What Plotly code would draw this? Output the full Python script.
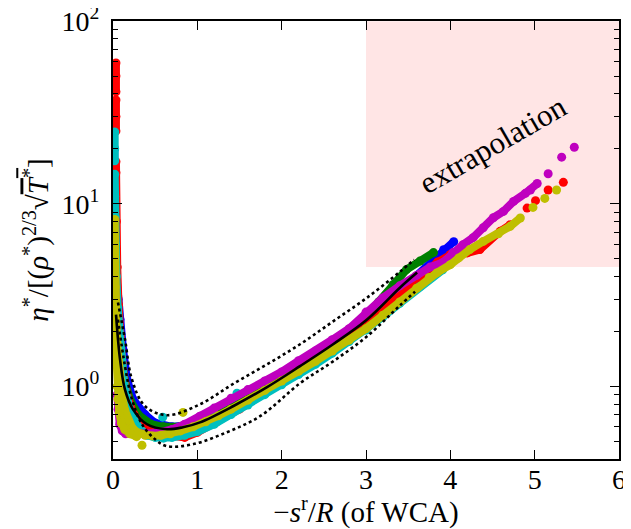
import math
import plotly.graph_objects as go

# ---------------- data ----------------
# fitted correlation and its +/- band
fit_x = [0.036, 0.083, 0.142, 0.237, 0.403, 0.641, 0.830, 1.032, 1.423, 1.827, 2.218, 2.610, 3.013, 3.405, 3.606]
fit_y = [2.47, 1.41, 0.96, 0.748, 0.62, 0.582, 0.597, 0.635, 0.778, 0.99, 1.29, 1.70, 2.32, 3.48, 4.20]
up_x = [0.059, 0.142, 0.225, 0.380, 0.641, 1.032, 1.423, 1.827, 2.218, 2.610, 3.013, 3.405, 3.571]
up_y = [2.88, 1.81, 1.09, 0.778, 0.695, 0.798, 1.03, 1.32, 1.70, 2.27, 3.06, 4.25, 4.94]
lo_x = [0.059, 0.142, 0.225, 0.344, 0.498, 0.641, 0.949, 1.352, 1.744, 2.218, 2.610, 3.013, 3.405, 3.582]
lo_y = [2.32, 1.29, 0.849, 0.62, 0.513, 0.47, 0.482, 0.561, 0.686, 1.04, 1.37, 1.88, 2.78, 3.30]

# blue series
blue_x = [0.015, 0.015, 0.02, 0.04, 0.06, 0.083, 0.119, 0.166, 0.237, 0.38, 0.5, 0.7, 0.9, 1.1, 1.4, 1.8, 2.2, 2.6, 3.0, 3.3, 3.6, 3.8, 3.92, 4.04]
blue_y = [20, 12, 6.0, 4.0, 3.0, 2.32, 1.59, 1.09, 0.85, 0.70, 0.63, 0.60, 0.615, 0.66, 0.77, 0.97, 1.25, 1.65, 2.25, 3.0, 4.0, 4.9, 5.6, 6.2]

# green series
green_x = [0.02, 0.035, 0.05, 0.075, 0.11, 0.15, 0.21, 0.3, 0.45, 0.6, 0.8, 1.0, 1.3, 1.6, 2.0, 2.4, 2.8, 3.0, 3.15, 3.32, 3.48, 3.64, 3.80]
green_y = [4.5, 3.2, 2.4, 1.75, 1.3, 1.02, 0.83, 0.70, 0.62, 0.60, 0.60, 0.63, 0.72, 0.85, 1.08, 1.42, 2.0, 2.4, 2.9, 3.6, 4.36, 4.85, 5.4]

# red series (None = gap)
red_x = [0.035, 0.035, 0.035, None, 0.035, 0.035, 0.035, None,
         0.035, 0.035, 0.04, 0.05, 0.065, 0.085, 0.11, 0.14, 0.18, 0.25, 0.35, 0.5, 0.7, 0.85, 1.0, 1.23, 1.5,
         1.8, 2.1, 2.4, 2.7, 3.0, 3.3, 3.6, 3.85, 4.0, 4.12, 4.2, 4.35, 4.59, 4.71]
red_y = [59, 50, 41, None, 37, 30, 25, None,
         17, 14.8, 8, 4.5, 2.8, 1.9, 1.35, 1.05, 0.85, 0.70, 0.60, 0.55, 0.535, 0.525, 0.56, 0.64, 0.75,
         0.92, 1.13, 1.40, 1.75, 2.2, 2.85, 3.8, 4.8, 5.27, 5.61, 5.38, 5.61, 7.06, 7.67]
red_pts_x = [4.91, 5.01, 5.16, 5.34]
red_pts_y = [9.47, 10.4, 11.9, 13.1]

# cyan series
cyan_x = [0.02, 0.02, 0.02, None,
          0.02, 0.02, 0.025, 0.03, 0.04, 0.055, 0.075, 0.1, 0.13, 0.17, 0.22, 0.3, 0.4, 0.5, 0.6, 0.7, 0.85, 1.0,
          1.2, 1.4, 1.6, 1.8, 2.0, 2.2, 2.4, 2.6, 2.8, 3.0, 3.2, 3.4, 3.64, 3.78, 3.91]
cyan_y = [24.7, 20, 17.2, None,
          14.5, 11, 8.5, 6.0, 4.0, 2.7, 1.9, 1.4, 1.07, 0.85, 0.70, 0.60, 0.54, 0.525, 0.52, 0.525, 0.54, 0.565,
          0.62, 0.70, 0.79, 0.90, 1.02, 1.16, 1.32, 1.52, 1.76, 2.03, 2.4, 2.85, 3.52, 3.95, 4.35]
cyan_pts_x = [0.59, 1.19, 1.47]
cyan_pts_y = [0.678, 0.748, 0.916]

# magenta series
mag_x = [0.02, 0.02, 0.025, 0.03, 0.04, 0.055, 0.075, 0.1, 0.14, 0.2, 0.28, 0.4, 0.55, 0.7, 0.85, 1.03, 1.2, 1.4,
         1.6, 1.8, 2.0, 2.2, 2.4, 2.6, 2.8, 3.0, 3.2, 3.4, 3.6, 3.76, 3.91, 4.03, 4.15, 4.27, 4.39, 4.51, 4.63,
         4.75, 4.89, 4.95, 5.03]
mag_y = [4.8, 3.8, 3.0, 2.4, 1.8, 1.35, 1.05, 0.85, 0.70, 0.60, 0.555, 0.55, 0.56, 0.58, 0.62, 0.686, 0.76, 0.86,
         0.96, 1.07, 1.2, 1.38, 1.56, 1.8, 2.07, 2.55, 3.05, 3.55, 4.05, 4.5, 4.76, 5.40, 5.97, 6.52, 7.39, 8.38, 9.08,
         10.3, 11.4, 11.9, 12.9]
mag_left_x = [0.05, 0.06, 0.08, 0.11, 0.15]
mag_left_y = [0.9, 0.75, 0.62, 0.57, 0.55]
mag_pts_x = [5.16, 5.32, 5.47]
mag_pts_y = [14.6, 18.0, 20.4]

# yellow series
yel_x = [0.02, 0.02, 0.02, 0.025, 0.03, 0.04, 0.05, 0.065, 0.085, 0.11, 0.14, 0.18, 0.23, 0.3, 0.38, 0.47, 0.57,
         0.68, 0.8, 0.95, 1.1, 1.25, 1.4, 1.6, 1.8, 2.0, 2.2, 2.4, 2.6, 2.8, 3.0, 3.2, 3.4, 3.6, 3.75, 3.84, 4.0,
         4.10, 4.23, 4.39, 4.57, 4.71, 4.83]
yel_y = [8.2, 6.0, 4.5, 3.5, 2.8, 2.1, 1.7, 1.35, 1.08, 0.88, 0.74, 0.65, 0.59, 0.555, 0.54, 0.535, 0.54,
         0.55, 0.57, 0.60, 0.64, 0.69, 0.75, 0.84, 0.95, 1.07, 1.21, 1.37, 1.56, 1.79, 2.07, 2.45, 2.9, 3.45, 3.95,
         4.18, 4.64, 5.05, 5.61, 6.22, 6.85, 7.52, 8.36]
yel_left_x = [0.03, 0.04, 0.05, 0.06, 0.075, 0.10, 0.14, 0.2, 0.28]
yel_left_y = [1.8, 1.3, 1.0, 0.85, 0.72, 0.63, 0.58, 0.55, 0.53]
yel_pts_x = [4.98, 5.12, 5.26, 0.344, 0.83]
yel_pts_y = [9.55, 10.7, 11.9, 0.476, 0.72]

# extrapolation region
extrap_x0, extrap_x1 = 3.0, 6.0
extrap_y0, extrap_y1 = 4.5, 100.0
label_x, label_y = 4.51, 21.0

x_ticks = [0, 1, 2, 3, 4, 5, 6]
y_ticks = [1, 10, 100]
y_ticktext = ["10<sup>0</sup>", "10<sup>1</sup>", "10<sup>2</sup>"]
y_minor = [0.4, 0.5, 0.6, 0.7, 0.8, 0.9, 2, 3, 4, 5, 6, 7, 8, 9, 20, 30, 40, 50, 60, 70, 80, 90]

# ---------------- figure ----------------
FONT = "Liberation Serif"
C = {"b": "#0000ff", "g": "#008000", "r": "#ff0000", "c": "#00bfbf", "m": "#bf00bf", "y": "#bfbf00"}
MS = 9
LW = 8

fig = go.Figure()

fig.add_trace(go.Scatter(
    x=[extrap_x0, extrap_x1, extrap_x1, extrap_x0, extrap_x0],
    y=[extrap_y0, extrap_y0, extrap_y1, extrap_y1, extrap_y0],
    mode="lines", fill="toself", fillcolor="rgba(255,0,0,0.1)",
    line=dict(width=0), hoverinfo="skip"))


def band(xs, ys, col, lw=LW, ms=MS):
    fig.add_trace(go.Scatter(x=xs, y=ys, mode="lines+markers",
                             line=dict(color=col, width=lw),
                             marker=dict(color=col, size=ms, line=dict(width=0))))


def pts(xs, ys, col, ms=MS):
    fig.add_trace(go.Scatter(x=xs, y=ys, mode="markers",
                             marker=dict(color=col, size=ms, line=dict(width=0))))


band(blue_x, blue_y, C["b"])
band(green_x, green_y, C["g"])
band(red_x, red_y, C["r"])
pts(red_pts_x, red_pts_y, C["r"])
band(cyan_x, cyan_y, C["c"])
pts(cyan_pts_x, cyan_pts_y, C["c"])
band(mag_x, mag_y, C["m"])
band(mag_left_x, mag_left_y, C["m"])
pts(mag_pts_x, mag_pts_y, C["m"])
band(yel_x, yel_y, C["y"])
band(yel_left_x, yel_left_y, C["y"])
pts(yel_pts_x, yel_pts_y, C["y"])

fig.add_trace(go.Scatter(x=fit_x, y=fit_y, mode="lines", line=dict(color="black", width=2.6, shape="spline")))
fig.add_trace(go.Scatter(x=up_x, y=up_y, mode="lines", line=dict(color="black", width=2.6, dash="dot", shape="spline")))
fig.add_trace(go.Scatter(x=lo_x, y=lo_y, mode="lines", line=dict(color="black", width=2.6, dash="dot", shape="spline")))

fig.add_annotation(x=label_x, y=math.log10(label_y), text="extrapolation", showarrow=False,
                   textangle=-30, font=dict(family=FONT, size=31, color="black"))

axis_common = dict(showline=True, linewidth=2, linecolor="black", mirror="ticks", ticks="inside",
                   tickcolor="black", tickwidth=1.3, ticklen=9, showgrid=False, zeroline=False,
                   automargin=False, ticklabeloverflow="allow",
                   tickfont=dict(family=FONT, size=28, color="black"))

fig.update_xaxes(range=[0, 6], tickvals=x_ticks, ticktext=[str(v) for v in x_ticks],
                 ticklabelstandoff=-6,
                 title=dict(text="−<i>s</i><sup>r</sup>/<i>R</i> (of WCA)",
                            font=dict(family=FONT, size=29, color="black"), standoff=16),
                 **axis_common)
fig.update_yaxes(type="log", range=[math.log10(0.4), 2.0008], tickvals=y_ticks, ticktext=y_ticktext,
                 ticklabelstandoff=6,
                 minor=dict(tickvals=y_minor, ticks="inside", ticklen=5, tickcolor="black", tickwidth=1.3),
                 title=dict(text="<i>η</i><sup>*</sup>/[(<i>ρ</i><sup>*</sup>)<sup>2/3</sup>√"
                                 "<span style='text-decoration:overline'><i>T</i><sup>*</sup></span>]",
                            font=dict(family=FONT, size=29, color="black"), standoff=4),
                 **axis_common)

# the page body has an 8px margin: size the figure so the plot area lands at x 113-619, y 21-459
fig.update_layout(width=623, height=521, margin=dict(l=105, r=12, t=13, b=70),
                  paper_bgcolor="white", plot_bgcolor="white", showlegend=False)

fig.write_html("out.html")
